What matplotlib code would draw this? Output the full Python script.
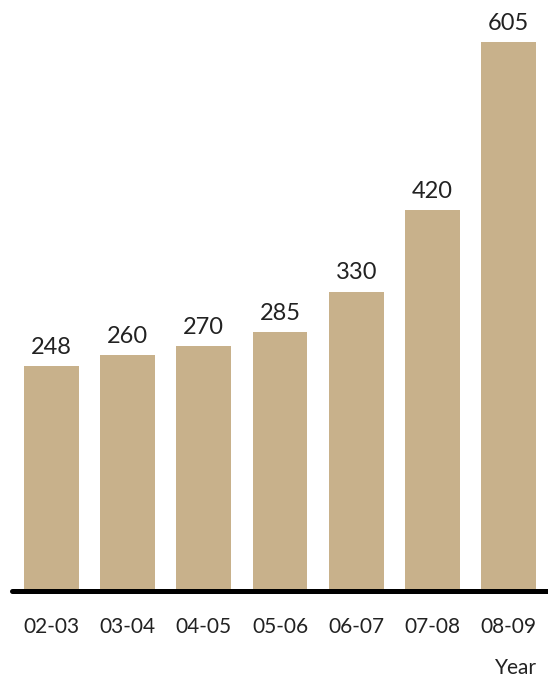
import matplotlib.pyplot as plt

years = ['02-03', '03-04', '04-05', '05-06', '06-07', '07-08', '08-09']
values = [248, 260, 270, 285, 330, 420, 605]

bar_color = '#c8b18b'
plt.rcParams['font.family'] = ['Lato', 'DejaVu Sans']

fig = plt.figure(figsize=(5.48, 6.77), dpi=100)
ax = fig.add_axes([0.0219, 0.127, 0.978, 0.873])

pos = list(range(len(years)))
bars = ax.bar(pos, values, width=0.72, color=bar_color)

for b, v in zip(bars, values):
    ax.annotate(str(v), (b.get_x() + b.get_width() / 2, v),
                xytext=(0, 6), textcoords='offset points',
                ha='center', va='bottom', fontsize=17, color='#222222')

ax.set_xlim(-0.519, 6.518)
ax.set_ylim(0, 651.3)

# thick baseline with rounded end on the left
ax.plot([-0.519, 6.518], [0, 0], color='black', lw=3.6,
        solid_capstyle='round', clip_on=False, zorder=3)

ax.set_xticks(pos)
ax.set_xticklabels(years, fontsize=15, color='#222222')
ax.tick_params(axis='x', length=0, pad=19)
ax.set_yticks([])
for s in ax.spines.values():
    s.set_visible(False)

fig.text(537 / 548, 1 - 668 / 677, 'Year', ha='right', va='center',
         fontsize=15, color='#222222')

fig.savefig('out.png', dpi=100)
